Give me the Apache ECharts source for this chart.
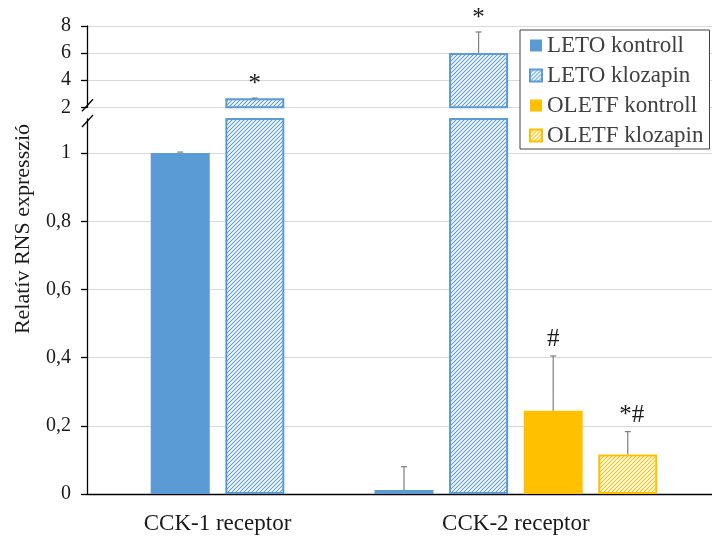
<!DOCTYPE html>
<html>
<head>
<meta charset="utf-8">
<script src="https://cdn.jsdelivr.net/npm/echarts@6/dist/echarts.min.js"></script>
<style>
  html, body { margin: 0; padding: 0; background: #fff; }
  #chart { width: 712px; height: 537px; }
</style>
</head>
<body>
<div id="chart"></div>
<script>
// Receptor groups on the x axis
const categories = ['CCK-1 receptor', 'CCK-2 receptor'];
const seriesNames = ['LETO kontroll', 'LETO klozapin', 'OLETF kontroll', 'OLETF klozapin'];

// Mean relative expression per group (null = not measured)
const letoKontroll = [1.0, 0.012];
const letoKlozapin = [2.66, 6.0];
const oletfKontroll = [null, 0.244];
const oletfKlozapin = [null, 0.116];

// Upper error (SD) per group
const letoKontrollErr = [0.003, 0.068];
const letoKlozapinErr = [0.02, 1.56];
const oletfKontrollErr = [null, 0.161];
const oletfKlozapinErr = [null, 0.067];

// Significance marks above the bars
const letoKontrollMarks = ['', ''];
const letoKlozapinMarks = ['*', '*'];
const oletfKontrollMarks = [null, '#'];
const oletfKlozapinMarks = [null, '*#'];

// Broken value axis: lower and upper segments
const lowerRange = [0, 1.1];
const lowerStep = 0.2;
const upperRange = [2, 8];
const upperStep = 2;

const values = [letoKontroll, letoKlozapin, oletfKontroll, oletfKlozapin];
const errors = [letoKontrollErr, letoKlozapinErr, oletfKontrollErr, oletfKlozapinErr];
const marks = [letoKontrollMarks, letoKlozapinMarks, oletfKontrollMarks, oletfKlozapinMarks];

const BLUE = '#5B9BD5';
const ORANGE = '#FFC000';
const FONT = '"Liberation Serif", "Times New Roman", serif';

// Diagonal hatch fill
function hatch(color) {
  const s = 4;
  const c = document.createElement('canvas');
  c.width = s; c.height = s;
  const ctx = c.getContext('2d');
  ctx.fillStyle = '#ffffff';
  ctx.fillRect(0, 0, s, s);
  ctx.strokeStyle = color;
  ctx.lineWidth = 1.1;
  ctx.beginPath();
  ctx.moveTo(-1, s + 1); ctx.lineTo(s + 1, -1);
  ctx.moveTo(-1, 1); ctx.lineTo(1, -1);
  ctx.moveTo(s - 1, s + 1); ctx.lineTo(s + 1, s - 1);
  ctx.stroke();
  return c;
}

const seriesStyles = [
  { color: BLUE },
  { color: { image: hatch(BLUE), repeat: 'repeat' }, borderColor: BLUE, borderWidth: 2 },
  { color: ORANGE },
  { color: { image: hatch(ORANGE), repeat: 'repeat' }, borderColor: ORANGE, borderWidth: 2 }
];

// Narrow slots along x: each bar occupies every second slot inside its group
const SLOT_COUNT = 17;
const groupStart = [2, 8];
const slotOf = (g, s) => groupStart[g] + 2 * s;

const slotLabels = new Array(SLOT_COUNT).fill('');
categories.forEach((name, g) => {
  let present = 0;
  values.forEach(v => { if (v[g] != null) present++; });
  slotLabels[groupStart[g] + present - 1] = name;
});

function barData(s) {
  const d = new Array(SLOT_COUNT).fill(null);
  categories.forEach((_, g) => {
    if (values[s][g] != null) d[slotOf(g, s)] = values[s][g];
  });
  return d;
}

// Error bars + marks, split between the two axis segments
const errItems = [[], []]; // [upper, lower]
const errMarks = [[], []];
values.forEach((v, s) => {
  categories.forEach((_, g) => {
    if (v[g] == null) return;
    const top = v[g] + errors[s][g];
    const seg = top > lowerRange[1] ? 0 : 1;
    errItems[seg].push([slotOf(g, s), v[g], errors[s][g]]);
    errMarks[seg].push(marks[s][g] || '');
  });
});

function errRenderer(seg) {
  return function (params, api) {
    const x = api.value(0), v = api.value(1), e = api.value(2);
    const p0 = api.coord([x, v]);
    const p1 = api.coord([x, v + e]);
    const children = [];
    if (e > 0.005) {
      children.push({
        type: 'line',
        shape: { x1: p0[0], y1: p0[1], x2: p1[0], y2: p1[1] },
        style: { stroke: '#7F7F7F', lineWidth: 1.2 }
      });
    }
    children.push({
      type: 'line',
      shape: { x1: p1[0] - 3, y1: p1[1], x2: p1[0] + 3, y2: p1[1] },
      style: { stroke: '#7F7F7F', lineWidth: 1.2 }
    });
    const txt = errMarks[seg][params.dataIndex];
    if (txt) {
      children.push({
        type: 'text',
        style: {
          text: txt,
          x: p1[0] + (txt.length > 1 ? 4 : 0),
          y: p1[1] - (txt === '*' ? 1 : 4),
          align: 'center', verticalAlign: 'bottom',
          font: '25px ' + FONT, fill: '#1a1a1a'
        }
      });
    }
    return { type: 'group', children: children };
  };
}

const fmt = v => String(+v.toFixed(2)).replace('.', ',');

const GRID_LEFT = 87;
const GRID_WIDTH = 634;

const option = {
  animation: false,
  backgroundColor: '#ffffff',
  textStyle: { fontFamily: FONT },
  grid: [
    { left: GRID_LEFT, width: GRID_WIDTH, top: 26, height: 81.3, outerBoundsMode: 'none' },
    { left: GRID_LEFT, width: GRID_WIDTH, top: 119, height: 375, outerBoundsMode: 'none' }
  ],
  legend: {
    data: seriesNames,
    orient: 'vertical',
    left: 520, top: 30,
    itemWidth: 12, itemHeight: 12, itemGap: 7,
    icon: 'rect',
    padding: [4, 6, 2, 9],
    borderColor: '#404040', borderWidth: 1,
    backgroundColor: '#ffffff',
    textStyle: { fontFamily: FONT, fontSize: 23, lineHeight: 23, color: '#404040' },
    z: 10
  },
  xAxis: [
    {
      type: 'category', gridIndex: 0, data: slotLabels, show: false
    },
    {
      type: 'category', gridIndex: 1, data: slotLabels,
      axisLine: { lineStyle: { color: '#000', width: 1.3 } },
      axisTick: { show: false },
      axisLabel: { interval: 0, margin: 18, fontFamily: FONT, fontSize: 23, color: '#1a1a1a' }
    }
  ],
  yAxis: [
    {
      type: 'value', gridIndex: 0,
      min: upperRange[0], max: upperRange[1], interval: upperStep,
      axisLine: { show: true, lineStyle: { color: '#000', width: 1.3 } },
      axisTick: { show: true, length: 6, lineStyle: { color: '#000', width: 1.3 } },
      axisLabel: { margin: 16, fontFamily: FONT, fontSize: 20, color: '#1a1a1a', formatter: fmt },
      splitLine: { lineStyle: { color: '#D9D9D9', width: 1 } }
    },
    {
      type: 'value', gridIndex: 1,
      min: lowerRange[0], max: lowerRange[1], interval: lowerStep,
      axisLine: { show: true, lineStyle: { color: '#000', width: 1.3 } },
      axisTick: { show: true, length: 6, lineStyle: { color: '#000', width: 1.3 } },
      axisLabel: { margin: 16, fontFamily: FONT, fontSize: 20, color: '#1a1a1a', formatter: fmt, showMaxLabel: false },
      splitLine: { showMaxLine: false, lineStyle: { color: '#D9D9D9', width: 1 } }
    }
  ],
  series: []
};

[0, 1].forEach(seg => {
  seriesNames.forEach((name, s) => {
    option.series.push({
      type: 'bar', name: name,
      xAxisIndex: seg, yAxisIndex: seg,
      data: barData(s),
      barWidth: 59, barGap: '-100%',
      clip: true,
      itemStyle: seriesStyles[s]
    });
  });
  option.series.push({
    type: 'custom', name: 'err' + seg,
    xAxisIndex: seg, yAxisIndex: seg,
    data: errItems[seg],
    renderItem: errRenderer(seg),
    z: 5
  });
});

const chart = echarts.init(document.getElementById('chart'), null, { renderer: 'canvas' });
chart.setOption(option);

// Axis title and the break marks on the value axis
const yUpperEnd = chart.convertToPixel({ yAxisIndex: 0 }, upperRange[0]);
const yLowerEnd = chart.convertToPixel({ yAxisIndex: 1 }, lowerRange[1]);
const slash = (cy) => ({
  type: 'line',
  shape: { x1: GRID_LEFT - 5, y1: cy + 6, x2: GRID_LEFT + 6, y2: cy - 6 },
  style: { stroke: '#000', lineWidth: 1.3 },
  z: 20
});
chart.setOption({
  graphic: [
    {
      type: 'text', x: 23, y: 229, rotation: Math.PI / 2,
      style: {
        text: 'Relatív RNS expresszió', align: 'center', verticalAlign: 'middle',
        font: '22px ' + FONT, fill: '#1a1a1a'
      }
    },
    slash(yUpperEnd - 2),
    slash(yLowerEnd + 2)
  ]
});
</script>
</body>
</html>
